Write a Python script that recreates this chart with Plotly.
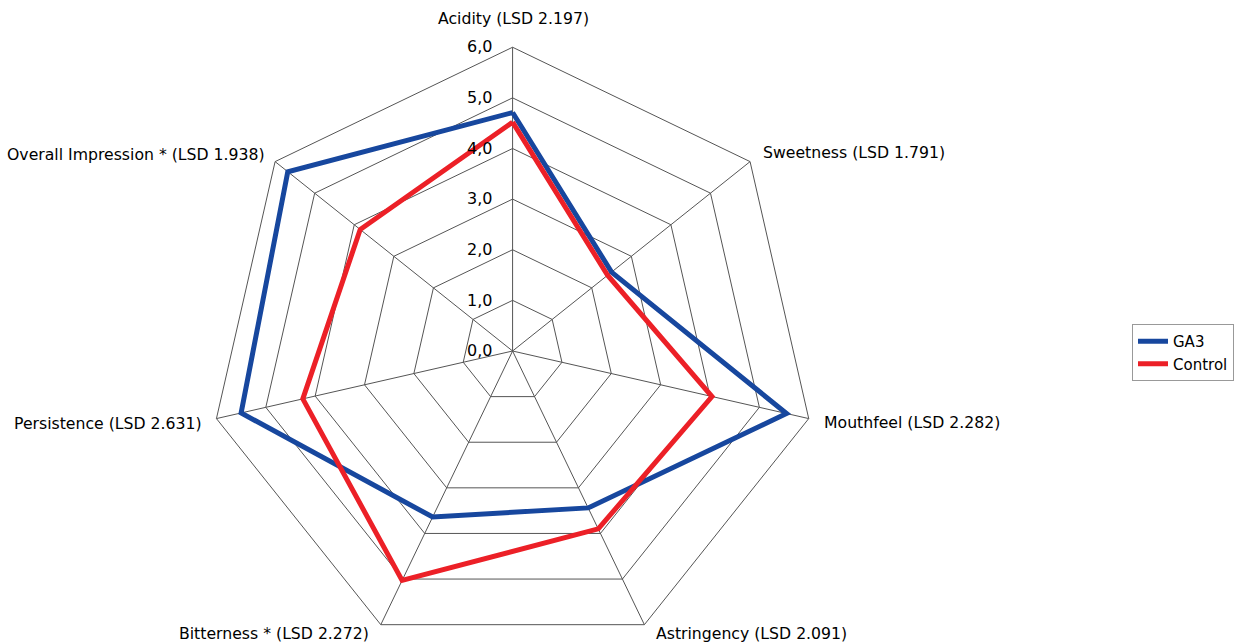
import plotly.graph_objects as go

attributes = [
    "Acidity (LSD 2.197)",
    "Sweetness (LSD 1.791)",
    "Mouthfeel (LSD 2.282)",
    "Astringency (LSD 2.091)",
    "Bitterness * (LSD 2.272)",
    "Persistence (LSD 2.631)",
    "Overall Impression * (LSD 1.938)",
]
ga3 = [4.71, 2.50, 5.55, 3.44, 3.64, 5.50, 5.68]
control = [4.52, 2.40, 4.04, 3.90, 5.03, 4.25, 3.85]
radial_ticks = [0, 1, 2, 3, 4, 5, 6]

W, H = 1234, 656
cx, cy, R = 513, 351, 304

# pixel anchor (x, y from top, xanchor) of each attribute label
label_layout = [
    (513.5, 18, "center"),
    (762, 152, "left"),
    (823, 422, "left"),
    (655, 633, "left"),
    (371, 633, "right"),
    (204, 423, "right"),
    (267, 154, "right"),
]

FONT = "DejaVu Sans"

fig = go.Figure()
for name, vals, color in [("GA3", ga3, "#17479e"), ("Control", control, "#ec2027")]:
    fig.add_trace(go.Scatterpolar(
        r=vals + vals[:1],
        theta=attributes + attributes[:1],
        mode="lines",
        name=name,
        line=dict(color=color, width=5),
    ))

annotations = [
    dict(text=txt, x=px / W, y=(H - py) / H, xref="paper", yref="paper",
         xanchor=xa, yanchor="middle", showarrow=False,
         font=dict(family=FONT, size=15.7, color="black"))
    for txt, (px, py, xa) in zip(attributes, label_layout)
]

fig.update_layout(
    width=W, height=H,
    margin=dict(l=0, r=0, t=0, b=0),
    paper_bgcolor="white",
    separators=",.",
    font=dict(family=FONT, size=15.7, color="black"),
    annotations=annotations,
    polar=dict(
        domain=dict(x=[(cx - R) / W, (cx + R) / W],
                    y=[(H - cy - R) / H, (H - cy + R) / H]),
        bgcolor="white",
        gridshape="linear",
        angularaxis=dict(
            direction="clockwise", rotation=90,
            showline=True, linecolor="#555", linewidth=1,
            gridcolor="#555", gridwidth=1,
            ticks="", showticklabels=False,
        ),
        radialaxis=dict(
            range=[0, 6], angle=90, tickangle=90, side="counterclockwise",
            tickvals=radial_ticks, tickformat=".1f",
            showline=False, ticks="outside", ticklen=14,
            tickcolor="rgba(0,0,0,0)",
            gridcolor="#555", gridwidth=1,
            tickfont=dict(family=FONT, size=16, color="black"),
        ),
    ),
    legend=dict(
        x=1133 / W, y=(H - 324) / H, xanchor="left", yanchor="top",
        bordercolor="#999", borderwidth=1,
        font=dict(family=FONT, size=15),
        tracegroupgap=0,
    ),
)

fig.write_html("out.html")
